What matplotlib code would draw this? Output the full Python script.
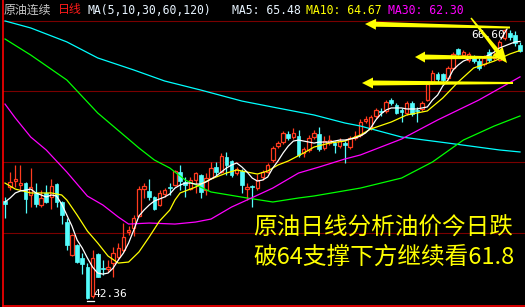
import matplotlib
matplotlib.use("Agg")
import matplotlib.pyplot as plt
from matplotlib.patches import Polygon
import numpy as np

# daily candles (price), left to right
opens = [51.16, 52.41, 52.95, 52.59, 52.77, 51.70, 51.88, 50.80, 51.88, 51.52,
         52.68, 51.07, 49.27, 46.31, 47.21, 46.04, 45.23, 42.63, 46.40, 45.14,
         45.05, 45.60, 46.13, 46.76, 48.40, 48.70, 49.81, 52.23, 52.05, 51.50,
         50.80, 51.79, 52.41, 52.59, 53.76, 52.86, 52.23, 53.04, 53.49, 52.14,
         53.22, 54.21, 53.76, 55.11, 54.75, 53.67, 53.85, 52.23, 52.50, 52.32,
         53.31, 53.76, 54.84, 56.09, 56.45, 57.17, 56.90, 57.00, 55.47, 55.74,
         56.90, 57.17, 55.92, 56.36, 56.36, 56.09, 56.36, 56.00, 56.81, 57.08,
         58.34, 57.71, 58.79, 59.24, 59.24, 60.22, 59.77, 59.33, 59.06, 59.95,
         59.33, 59.42, 60.22, 61.84, 62.56, 62.56, 62.20, 63.10, 64.80, 64.26,
         63.81, 64.08, 63.72, 63.46, 64.53, 63.99, 63.81, 65.79, 66.24, 66.06,
         65.16]
highs = [51.52, 53.76, 54.39, 54.39, 52.86, 54.12, 52.77, 52.14, 52.59, 53.13,
         52.77, 51.16, 49.63, 48.20, 47.30, 46.49, 45.59, 46.76, 46.49, 45.86,
         45.86, 47.00, 47.39, 49.18, 48.90, 49.90, 52.50, 52.77, 53.13, 51.60,
         52.14, 52.32, 52.77, 53.94, 54.39, 53.31, 53.31, 53.76, 53.55, 53.67,
         54.66, 54.66, 55.47, 55.56, 54.84, 54.21, 54.03, 52.77, 52.59, 53.58,
         53.94, 54.57, 56.09, 56.54, 57.44, 57.44, 57.71, 57.53, 56.00, 57.08,
         57.53, 57.80, 57.00, 57.08, 56.54, 56.81, 56.54, 57.00, 57.44, 58.52,
         58.79, 58.88, 59.51, 59.51, 60.22, 60.40, 59.95, 59.51, 60.13, 60.13,
         59.60, 60.13, 61.84, 62.92, 62.74, 62.65, 63.28, 64.53, 64.89, 64.71,
         64.53, 64.26, 64.00, 64.26, 64.80, 64.53, 65.61, 66.60, 66.51, 66.42,
         65.43]
lows = [49.63, 52.14, 52.41, 52.14, 50.08, 50.62, 50.62, 50.62, 50.98, 50.44,
        50.62, 49.09, 46.76, 46.22, 45.59, 44.60, 42.36, 42.45, 44.30, 44.51,
        44.78, 44.30, 45.86, 46.60, 48.10, 48.00, 49.72, 51.43, 51.25, 50.35,
        50.71, 51.52, 51.70, 52.50, 52.14, 51.52, 52.14, 51.88, 51.43, 51.70,
        53.13, 53.49, 53.67, 53.49, 53.31, 53.49, 51.88, 51.25, 50.62, 52.14,
        53.04, 53.67, 54.66, 55.92, 56.27, 56.63, 56.72, 55.11, 55.11, 55.56,
        56.72, 55.65, 55.74, 56.18, 55.47, 55.92, 54.57, 55.83, 56.63, 56.90,
        58.16, 57.53, 58.61, 58.79, 59.06, 59.77, 58.97, 58.25, 58.88, 58.79,
        58.25, 59.24, 60.13, 61.66, 61.84, 61.84, 62.02, 62.92, 64.26, 64.17,
        63.63, 63.55, 62.92, 63.28, 63.63, 63.81, 63.72, 65.61, 65.61, 65.07,
        64.53]
closes = [50.89, 52.86, 53.13, 52.77, 51.34, 52.41, 50.89, 51.43, 51.07, 52.50,
          51.07, 49.90, 47.21, 48.11, 45.68, 45.50, 42.45, 46.04, 44.33, 45.05,
          45.23, 46.50, 46.94, 47.93, 48.60, 49.63, 52.23, 52.50, 51.52, 50.44,
          51.88, 52.14, 52.32, 53.85, 52.95, 52.59, 53.04, 53.67, 51.97, 53.22,
          54.12, 53.76, 55.20, 54.39, 53.49, 54.03, 52.59, 52.41, 52.41, 53.04,
          53.76, 54.39, 55.92, 56.36, 57.26, 56.81, 57.26, 55.29, 55.83, 56.81,
          57.26, 55.83, 56.54, 56.63, 56.18, 56.54, 56.18, 56.81, 57.00, 58.25,
          58.52, 58.70, 59.33, 59.15, 60.04, 59.95, 59.06, 59.15, 59.95, 58.97,
          59.24, 59.95, 61.66, 62.65, 62.11, 62.02, 63.10, 64.35, 64.35, 64.53,
          64.35, 63.72, 63.10, 64.00, 63.81, 64.26, 65.43, 66.51, 65.88, 65.34,
          64.62]

# moving averages
ma5 = [51.07, 51.43, 51.88, 52.06, 52.14, 52.23, 51.88, 51.70, 51.52, 51.70,
       51.61, 50.89, 49.90, 48.91, 47.66, 46.94, 46.04, 45.23, 44.69, 44.60,
       44.69, 45.14, 45.86, 46.49, 47.39, 48.55, 49.81, 50.35, 50.80, 51.16,
       51.34, 51.52, 51.79, 52.32, 52.59, 52.77, 52.77, 52.68, 52.68, 52.86,
       53.13, 53.40, 53.76, 54.12, 54.39, 54.57, 54.21, 53.76, 53.22, 52.95,
       53.04, 53.31, 54.12, 54.75, 55.47, 56.09, 56.54, 56.63, 56.54, 56.45,
       56.36, 56.45, 56.45, 56.45, 56.54, 56.63, 56.63, 56.72, 56.81, 56.99,
       57.26, 57.71, 58.43, 58.97, 59.33, 59.51, 59.51, 59.51, 59.42, 59.42,
       59.42, 59.51, 59.60, 60.22, 60.67, 61.48, 62.02, 62.92, 63.37, 63.72,
       63.90, 64.08, 64.08, 64.08, 64.26, 64.53, 64.89, 65.07, 65.25, 65.43,
       65.48]
ma10_x = [0, 2, 5, 9, 11, 12, 14, 16, 18, 20, 22, 24, 26, 28, 30, 32, 33, 34,
          37, 38, 40, 43, 45, 47, 49, 51, 53, 55, 58, 60, 63, 66, 69, 71, 75,
          78, 82, 85, 88, 91, 95, 98, 100]
ma10 = [52.77, 52.23, 51.88, 51.88, 51.70, 51.25, 49.90, 48.46, 47.39, 46.22,
        45.59, 45.68, 46.58, 47.93, 49.36, 50.35, 51.25, 51.88, 52.41, 52.68,
        53.13, 53.67, 53.94, 53.76, 53.58, 53.85, 54.39, 54.75, 55.47, 56.00,
        56.36, 56.54, 57.08, 57.62, 58.25, 58.88, 59.24, 60.40, 61.84, 63.10,
        63.72, 64.35, 64.67]
ma30_x = [0, 2, 5, 8, 12, 16, 19, 22, 24, 28, 33, 37, 40, 44, 47, 52, 57, 61,
          66, 69, 77, 84, 92, 100]
ma30 = [59.86, 58.61, 56.90, 55.74, 53.76, 51.60, 50.80, 49.72, 49.09, 49.18,
        49.09, 49.27, 49.54, 50.62, 51.25, 52.32, 53.67, 54.21, 54.93, 55.29,
        56.72, 58.43, 60.22, 62.30]
ma60_x = [0, 5, 12, 18, 26, 29, 32, 35, 40, 47, 52, 57, 60, 69, 77, 83, 89,
          95, 100]
ma60 = [65.70, 64.26, 62.02, 59.06, 55.92, 54.84, 54.12, 53.04, 51.97, 51.43,
        51.07, 51.43, 51.61, 52.32, 53.22, 54.66, 56.63, 57.89, 58.79]
ma120_x = [0, 5, 12, 18, 25, 31, 38, 46, 53, 60, 66, 69, 77, 86, 96, 100]
ma120 = [67.32, 66.69, 65.44, 64.00, 62.92, 61.93, 61.12, 60.13, 59.50, 58.88,
         58.16, 57.89, 56.90, 56.36, 55.74, 55.56]

grid_levels = [67.32, 61.03, 54.66, 48.28]

W, H = 525, 307
UP = "#ff3b1f"
DOWN = "#54fcfc"

fig = plt.figure(figsize=(W / 100, H / 100), dpi=100, facecolor="black")
ax = fig.add_axes([3 / W, 1.5 / H, 1 - 3 / W, 1 - 1.5 / H])
ax.set_facecolor("black")
ax.set_xlim(-0.39, 100.97)
ax.set_ylim(41.78, 69.20)

for lvl in grid_levels:
    ax.axhline(lvl, color="#7a0000", lw=0.8, zorder=1)

# candles
x = np.arange(len(opens))
o = np.array(opens)
c = np.array(closes)
up = c >= o
colors = np.where(up, UP, DOWN)
ax.vlines(x, lows, highs, colors=colors, lw=0.9, zorder=2)
body_lo = np.minimum(o, c)
body_h = np.maximum(np.abs(c - o), 0.06)
ax.bar(x[up], body_h[up], bottom=body_lo[up], width=0.66,
       facecolor="black", edgecolor=UP, lw=0.9, zorder=3)
ax.bar(x[~up], body_h[~up], bottom=body_lo[~up], width=0.72,
       facecolor=DOWN, edgecolor=DOWN, lw=0.5, zorder=3)

# moving average lines
ax.plot(ma120_x, ma120, color="#00ffff", lw=0.9, zorder=4)
ax.plot(ma60_x, ma60, color="#00ff00", lw=0.9, zorder=4)
ax.plot(ma30_x, ma30, color="#ff00ff", lw=0.9, zorder=4)
ax.plot(ma10_x, ma10, color="#ffff00", lw=0.9, zorder=4)
ax.plot(x, ma5, color="white", lw=0.9, zorder=4)

for side in ["top", "right"]:
    ax.spines[side].set_visible(False)
for side in ["left", "bottom"]:
    ax.spines[side].set_color("#ff0000")
    ax.spines[side].set_linewidth(1.2)
ax.set_xticks([])
ax.set_yticks([])


# helpers in image pixels (y down)
def fx(px):
    return px / W


def fy(py):
    return 1 - py / H


CJK = ["Noto Sans CJK SC", "DejaVu Sans"]
MONO = "DejaVu Sans Mono"

# header
fig.text(fx(4), fy(10), "原油连续", color="#c8c8c8", fontsize=8.6,
         family=CJK, va="center")
fig.text(fx(58), fy(10), "日线", color="#ff1a1a", fontsize=8.6,
         family=CJK, va="center")
fig.text(fx(88), fy(10.5), "MA(5,10,30,60,120)", color="#e8f4ff",
         fontsize=8.3, family=MONO, va="center")
fig.text(fx(232), fy(10.5), "MA5: 65.48", color="#e8f4ff",
         fontsize=8.3, family=MONO, va="center")
fig.text(fx(306), fy(10.5), "MA10: 64.67", color="#ffff00",
         fontsize=8.3, family=MONO, va="center")
fig.text(fx(388), fy(10.5), "MA30: 62.30", color="#ff00ff",
         fontsize=8.3, family=MONO, va="center")

# high / low markers
fig.text(fx(471), fy(34.5), "66.60", color="white", fontsize=8,
         family=MONO, va="center")
fig.lines.append(plt.Line2D([fx(501), fx(507)], [fy(39), fy(29)],
                            color="white", lw=0.9, transform=fig.transFigure))
fig.text(fx(93), fy(294), "42.36", color="white", fontsize=8,
         family=MONO, va="center")
fig.lines.append(plt.Line2D([fx(87), fx(94)], [fy(300.5), fy(300.5)],
                            color="white", lw=0.9, transform=fig.transFigure))

# commentary
fig.text(fx(253), fy(228), "原油日线分析油价今日跌", color="#ffff00",
         fontsize=17, family=CJK, va="center")
fig.text(fx(253), fy(257), "破64支撑下方继续看61.8", color="#ffff00",
         fontsize=17, family=CJK, va="center")


def arrow(tail, tip, w_tail, w_shaft, head_w, head_len):
    t = np.array(tail, float)
    p = np.array(tip, float)
    d = (p - t) / np.linalg.norm(p - t)
    n = np.array([-d[1], d[0]])
    base = p - d * head_len
    pts = [t + n * w_tail / 2, base + n * w_shaft / 2, base + n * head_w / 2,
           p, base - n * head_w / 2, base - n * w_shaft / 2, t - n * w_tail / 2]
    pts = [(fx(a), fy(b)) for a, b in pts]
    fig.patches.append(Polygon(pts, closed=True, facecolor="#ffff00",
                               edgecolor="none", transform=fig.transFigure,
                               zorder=10))


arrow((510, 27.5), (365, 24), 2, 5, 11, 11)
arrow((505, 57.5), (415, 57), 2, 5, 11, 10)
arrow((513, 83), (362, 83), 2, 5, 11, 11)
arrow((471, 18), (507, 63), 1.5, 4.5, 13, 15)

fig.savefig("out.png", dpi=100, facecolor="black")
